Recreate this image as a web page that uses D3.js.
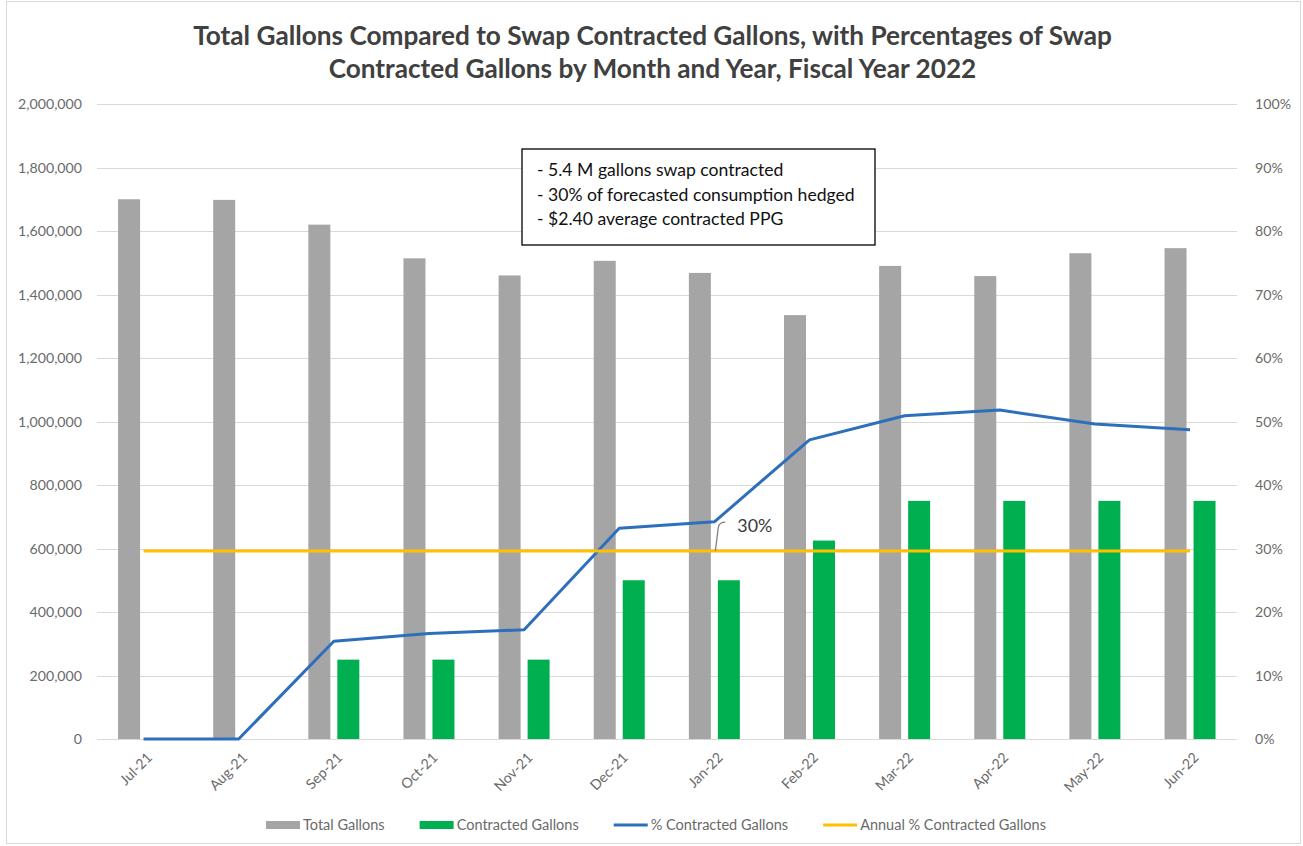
<!DOCTYPE html>
<html>
<head>
<meta charset="utf-8">
<script src="https://cdn.jsdelivr.net/npm/d3@7"></script>
<style>
  html, body { margin: 0; padding: 0; background: #fff; }
  svg { display: block; }
  text { font-family: Lato, "Open Sans", sans-serif; }
</style>
</head>
<body>
<svg id="chart" width="1303" height="846"></svg>
<script>
// ---------- data ----------
const months = ["Jul-21","Aug-21","Sep-21","Oct-21","Nov-21","Dec-21","Jan-22","Feb-22","Mar-22","Apr-22","May-22","Jun-22"];
const totalGallons = [1700000,1698000,1620000,1514000,1460000,1506000,1468000,1335000,1490000,1458000,1530000,1546000];
const contractedGallons = [0,0,250000,250000,250000,500000,500000,625000,750000,750000,750000,750000];
const pctContracted = [0,0,0.154,0.166,0.172,0.332,0.342,0.471,0.509,0.518,0.496,0.487];
const annualPct = [0.296,0.296,0.296,0.296,0.296,0.296,0.296,0.296,0.296,0.296,0.296,0.296];
const leftTicks = [0,200000,400000,600000,800000,1000000,1200000,1400000,1600000,1800000,2000000];
const rightTicks = [0,0.1,0.2,0.3,0.4,0.5,0.6,0.7,0.8,0.9,1.0];
const titleLines = ["Total Gallons Compared to Swap Contracted Gallons, with Percentages of Swap",
                    "Contracted Gallons by Month and Year, Fiscal Year 2022"];
const noteLines = ["- 5.4 M gallons swap contracted",
                   "- 30% of forecasted consumption hedged",
                   "- $2.40 average contracted PPG"];
const legendItems = [
  {name: "Total Gallons", type: "bar", color: "#a5a5a5"},
  {name: "Contracted Gallons", type: "bar", color: "#00b050"},
  {name: "% Contracted Gallons", type: "line", color: "#2e6fbd"},
  {name: "Annual % Contracted Gallons", type: "line", color: "#ffc000"}
];

const colGray = "#a5a5a5", colGreen = "#00b050", colBlue = "#2e6fbd", colYellow = "#ffc000";
const axisText = "#6a6a6a";

const svg = d3.select("#chart");

function measure(str, size, weight) {
  const t = svg.append("text").attr("font-size", size).attr("font-weight", weight || 400).text(str);
  const w = t.node().getComputedTextLength();
  t.remove();
  return w;
}
function fitSize(str, base, target, weight) {
  return base * target / measure(str, base, weight);
}

// sizes fitted to reference widths
const axisFS = fitSize("2,000,000", 12, 64);
const legendFS = fitSize("Annual % Contracted Gallons", 12, 186);
const noteFS = fitSize(noteLines[1], 16, 318);
const titleFS = fitSize(titleLines[0], 21, 919, 700);

// background + frame
svg.append("rect").attr("x",0).attr("y",0).attr("width",1303).attr("height",846).attr("fill","#fff");
svg.append("rect").attr("x",6.5).attr("y",1.5).attr("width",1294).attr("height",842)
  .attr("fill","none").attr("stroke","#d9d9d9").attr("stroke-width",1);

// scales
const x = d3.scaleBand().domain(months).range([96, 1237.6]).paddingInner(0).paddingOuter(0);
const bw = x.bandwidth();
const xs = d3.scaleBand().domain(["total","contracted"])
  .range([bw/2 - 25.5, bw/2 + 25.5]).paddingInner(7/29).paddingOuter(0);
const yL = d3.scaleLinear().domain([0, 2000000]).range([739, 104]);
const yR = d3.scaleLinear().domain([0, 1]).range([739, 104]);

// gridlines
svg.append("g").selectAll("line").data(leftTicks).join("line")
  .attr("x1", 97).attr("x2", 1237)
  .attr("y1", d => Math.round(yL(d)) + 0.5).attr("y2", d => Math.round(yL(d)) + 0.5)
  .attr("stroke", "#d9d9d9").attr("stroke-width", 1);

// left axis
const gL = svg.append("g").attr("transform", "translate(97,0)")
  .call(d3.axisLeft(yL).tickValues(leftTicks).tickSize(0).tickPadding(15).tickFormat(d3.format(",")));
gL.select(".domain").remove();
gL.selectAll("text").attr("fill", axisText).attr("font-size", axisFS).style("font-family","Lato, sans-serif");

// right axis
const gR = svg.append("g").attr("transform", "translate(1237,0)")
  .call(d3.axisRight(yR).tickValues(rightTicks).tickSize(0).tickPadding(18).tickFormat(d3.format(".0%")));
gR.select(".domain").remove();
gR.selectAll("text").attr("fill", axisText).attr("font-size", axisFS).style("font-family","Lato, sans-serif");

// x axis
const gX = svg.append("g").attr("transform", "translate(0,739)")
  .call(d3.axisBottom(x).tickSize(0).tickPadding(0));
gX.select(".domain").remove();
gX.selectAll("text")
  .attr("fill", axisText).attr("font-size", axisFS).style("font-family","Lato, sans-serif")
  .attr("x", 0).attr("y", 0).attr("dy", "0.35em")
  .style("text-anchor", "end")
  .attr("transform", "translate(6,16) rotate(-45)");

// bars
const groups = svg.append("g").selectAll("g").data(months).join("g")
  .attr("transform", d => `translate(${x(d)},0)`);
groups.append("rect")
  .attr("x", xs("total")).attr("width", xs.bandwidth())
  .attr("y", (d,i) => yL(totalGallons[i])).attr("height", (d,i) => yL(0) - yL(totalGallons[i]))
  .attr("fill", colGray);
groups.filter((d,i) => contractedGallons[i] > 0).append("rect")
  .attr("x", xs("contracted")).attr("width", xs.bandwidth())
  .attr("y", d => yL(contractedGallons[months.indexOf(d)]))
  .attr("height", d => yL(0) - yL(contractedGallons[months.indexOf(d)]))
  .attr("fill", colGreen);

// lines
const cx = d => x(d) + bw/2;
const pctLine = d3.line().x((d,i) => cx(months[i])).y(d => yR(d));
svg.append("path").datum(pctContracted).attr("d", pctLine)
  .attr("fill","none").attr("stroke", colBlue).attr("stroke-width", 3).attr("stroke-linejoin","round");
svg.append("path").datum(annualPct).attr("d", pctLine)
  .attr("fill","none").attr("stroke", colYellow).attr("stroke-width", 3);

// 30% data label with leader line
const jx = cx("Jan-22"), jy = yR(annualPct[6]);
svg.append("path")
  .attr("d", `M${jx+1},${jy} L${jx+4},${jy-24} Q${jx+5},${jy-29} ${jx+11},${jy-29}`)
  .attr("fill","none").attr("stroke","#808080").attr("stroke-width",1.3);
svg.append("text").attr("x", jx + 23).attr("y", jy - 19)
  .attr("font-size", fitSize("30%", 16, 35)).attr("fill", "#3a3a3a").text(d3.format(".0%")(0.30));

// annotation box
svg.append("rect").attr("x", 522).attr("y", 149).attr("width", 353).attr("height", 96)
  .attr("fill", "#fff").attr("stroke", "#000").attr("stroke-width", 1.3);
svg.append("g").selectAll("text").data(noteLines).join("text")
  .attr("x", 537).attr("y", (d,i) => 176 + i*24.5)
  .attr("font-size", noteFS).attr("fill", "#111").text(d => d);

// title
svg.append("g").selectAll("text").data(titleLines).join("text")
  .attr("x", 652.5).attr("y", (d,i) => 45 + i*33)
  .attr("text-anchor", "middle").attr("font-size", titleFS).attr("font-weight", 700)
  .attr("fill", "#404040").text(d => d);

// legend
const lg = svg.append("g").attr("transform", "translate(266,825)");
let lx = 0;
legendItems.forEach(it => {
  if (it.type === "bar") {
    lg.append("rect").attr("x", lx).attr("y", -4).attr("width", 34).attr("height", 8).attr("fill", it.color);
  } else {
    lg.append("line").attr("x1", lx).attr("x2", lx + 34).attr("y1", 0).attr("y2", 0)
      .attr("stroke", it.color).attr("stroke-width", 3);
  }
  const t = lg.append("text").attr("x", lx + 37).attr("y", 0).attr("dy", "0.35em")
    .attr("font-size", legendFS).attr("fill", axisText).text(it.name);
  lx += 37 + t.node().getComputedTextLength() + 35;
});
</script>
</body>
</html>
